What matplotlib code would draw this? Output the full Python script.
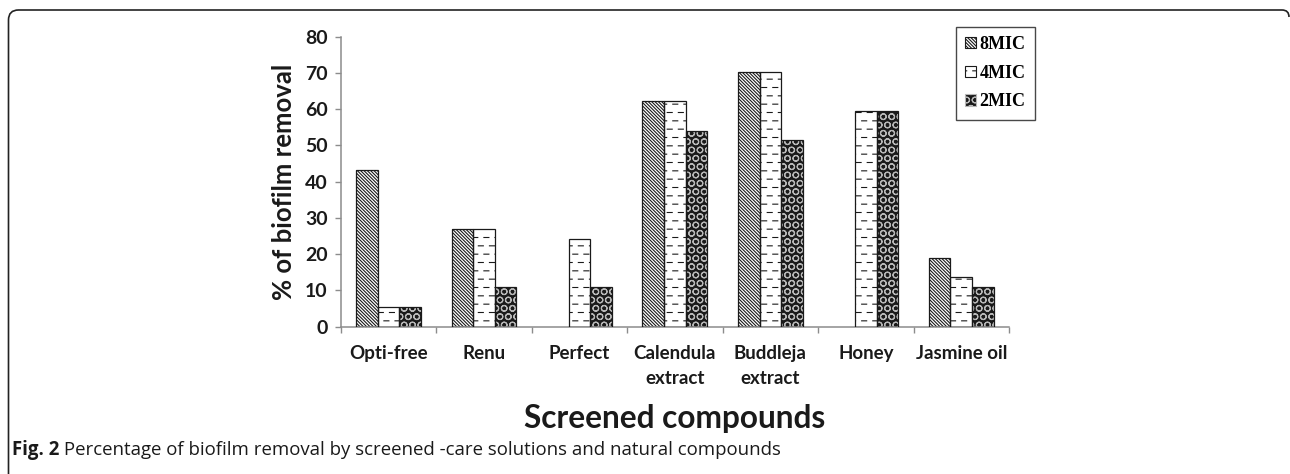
import matplotlib
matplotlib.use('Agg')
import matplotlib.pyplot as plt
import matplotlib.hatch as mhatch
from matplotlib.path import Path
from matplotlib.patches import PathPatch, Patch
import numpy as np

# ---------------- data ----------------
categories = ['Opti-free', 'Renu', 'Perfect', 'Calendula\nextract',
              'Buddleja\nextract', 'Honey', 'Jasmine oil']
series_names = ['8MIC', '4MIC', '2MIC']
mic8 = [43.2, 27.0, 0.0, 62.3, 70.3, 0.0, 19.0]
mic4 = [5.5, 27.0, 24.3, 62.3, 70.3, 59.5, 13.6]
mic2 = [5.5, 10.9, 10.9, 54.1, 51.4, 59.5, 10.9]
yticks = [0, 10, 20, 30, 40, 50, 60, 70, 80]
y_label = '% of biofilm removal'
x_label = 'Screened compounds'
caption_bold = 'Fig. 2'
caption_rest = ' Percentage of biofilm removal by screened -care solutions and natural compounds'


# ---------------- custom dashed hatch (replaces '-') ----------------
class DashHatch(mhatch.HatchPatternBase):
    def __init__(self, hatch, density):
        self.rows = int(hatch.count('-') * density)
        self.cols = int(self.rows * 0.75)
        self.num_vertices = self.rows * self.cols * 2

    def set_vertices_and_codes(self, vertices, codes):
        k = 0
        for i in range(self.rows):
            y = (i + 0.5) / self.rows
            off = 0.0 if i % 2 == 0 else 0.5
            for j in range(self.cols):
                x0 = (j + off + 0.05) / self.cols
                x1 = x0 + 0.45 / self.cols
                vertices[k] = (x0, y)
                vertices[k + 1] = (x1, y)
                codes[k] = Path.MOVETO
                codes[k + 1] = Path.LINETO
                k += 2


for idx, ht in enumerate(mhatch._hatch_types):
    if ht is mhatch.HorizontalHatch:
        mhatch._hatch_types[idx] = DashHatch

plt.rcParams['hatch.linewidth'] = 0.8
plt.rcParams['font.family'] = ['Lato', 'DejaVu Sans']

W, H = 1290, 474
fig = plt.figure(figsize=(W / 100, H / 100), dpi=100)
fig.patch.set_facecolor('white')

ax = fig.add_axes([340.7 / W, 1 - 326.7 / H, (1009 - 340.7) / W, (326.7 - 36.7) / H])

n = len(categories)
x = np.arange(n)
bw = 0.226
styles = [
    dict(face='white', hcol='#1a1a1a', hatch='\\' * 10),
    dict(face='white', hcol='#1a1a1a', hatch='--'),
    dict(face='#1a1a1a', hcol='#b8b8b8', hatch='OO'),
]
all_vals = [mic8, mic4, mic2]
handles = []
for s, (vals, st) in enumerate(zip(all_vals, styles)):
    pos = x + (s - 1) * bw
    ax.bar(pos, vals, width=bw, color=st['face'], edgecolor=st['hcol'],
           hatch=st['hatch'], linewidth=0, zorder=2)
    heights = [v if v > 0 else np.nan for v in vals]
    ax.bar(pos, heights, width=bw, fill=False, edgecolor='#1a1a1a',
           linewidth=0.9, zorder=3)
    handles.append(Patch(facecolor=st['face'], edgecolor=st['hcol'],
                         hatch=st['hatch'], linewidth=0.8, label=series_names[s]))

ax.set_xlim(-0.5, n - 0.5)
ax.set_ylim(0, 80)
ax.set_yticks(yticks)
ax.set_yticklabels([str(t) for t in yticks])
ax.set_xticks(x)
ax.set_xticklabels(categories, linespacing=1.6)
ax.set_xticks(np.arange(n + 1) - 0.5, minor=True)

for side in ['top', 'right']:
    ax.spines[side].set_visible(False)
for side in ['left', 'bottom']:
    ax.spines[side].set_color('#8c8c8c')
    ax.spines[side].set_linewidth(1.1)

ax.tick_params(axis='y', which='major', length=4.5, width=1.0, color='#8c8c8c',
               labelsize=14, pad=5, labelcolor='#1a1a1a')
for lab in ax.get_yticklabels():
    lab.set_fontweight('bold')
ax.tick_params(axis='x', which='major', length=0, labelsize=13.5, pad=13,
               labelcolor='#1a1a1a')
for lab in ax.get_xticklabels():
    lab.set_fontweight('bold')
ax.tick_params(axis='x', which='minor', length=4.5, width=1.0, color='#8c8c8c')

ax.set_ylabel(y_label, fontsize=18.5, fontweight='bold', color='#1a1a1a', labelpad=6)

fig.text(675 / W, 1 - 428 / H, x_label, ha='center', va='baseline',
         fontsize=22.8, fontweight='bold', color='#1a1a1a')

# caption
t1 = fig.text(12 / W, 1 - 455 / H, caption_bold, ha='left', va='baseline',
              fontsize=13.4, fontweight='bold', color='#1a1a1a',
              family=['Open Sans', 'DejaVu Sans'])
fig.canvas.draw()
bb = t1.get_window_extent()
fig.text(bb.x1 / W, 1 - 455 / H, caption_rest, ha='left', va='baseline',
         fontsize=13.4, color='#1a1a1a', family=['Open Sans', 'DejaVu Sans'])

leg = fig.legend(handles=handles, loc='upper left',
                 bbox_to_anchor=(956 / W, 1 - 27 / H),
                 prop={'family': ['Liberation Serif'], 'weight': 'bold', 'size': 13},
                 frameon=True, fancybox=False, edgecolor='#1a1a1a',
                 handlelength=0.6, handleheight=0.6, handletextpad=0.2,
                 labelspacing=0.65, borderpad=0.5, borderaxespad=0)
leg.get_frame().set_linewidth(1.0)

# figure frame with rounded top-left corner
r = 10
verts = [(8.5, H), (8.5, 10 + r), (8.5, 10), (8.5 + r, 10), (1282, 10), (1289, 10), (1289, 17)]
codes = [Path.MOVETO, Path.LINETO, Path.CURVE3, Path.CURVE3, Path.LINETO, Path.CURVE3, Path.CURVE3]
verts_f = [(vx / W, 1 - vy / H) for vx, vy in verts]
frame = PathPatch(Path(verts_f, codes), transform=fig.transFigure, fill=False,
                  edgecolor='#222222', linewidth=1.2, clip_on=False)
fig.add_artist(frame)

fig.savefig('out.png', dpi=100, facecolor='white')
